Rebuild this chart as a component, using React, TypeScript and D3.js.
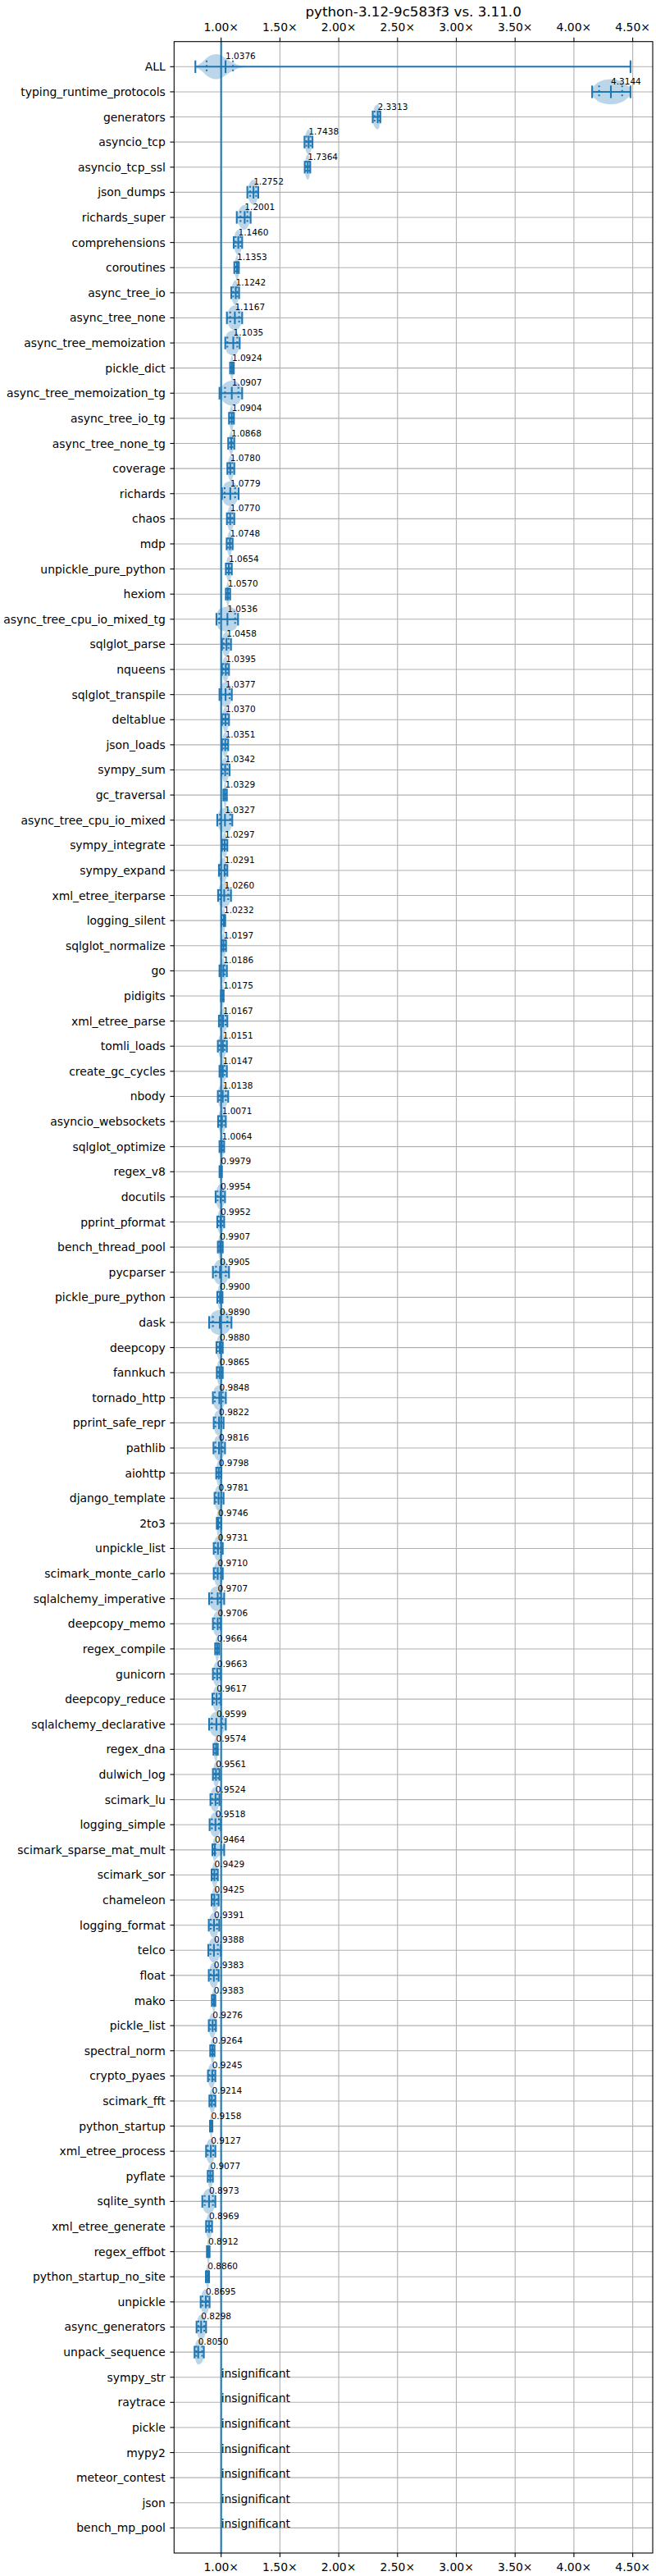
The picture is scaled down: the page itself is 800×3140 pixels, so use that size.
import React from 'react';
import * as d3 from 'd3';

const title = 'python-3.12-9c583f3 vs. 3.11.0';

const names = [
  'ALL', 'typing_runtime_protocols', 'generators', 'asyncio_tcp', 'asyncio_tcp_ssl',
  'json_dumps', 'richards_super', 'comprehensions', 'coroutines', 'async_tree_io',
  'async_tree_none', 'async_tree_memoization', 'pickle_dict', 'async_tree_memoization_tg',
  'async_tree_io_tg', 'async_tree_none_tg', 'coverage', 'richards', 'chaos', 'mdp',
  'unpickle_pure_python', 'hexiom', 'async_tree_cpu_io_mixed_tg', 'sqlglot_parse', 'nqueens',
  'sqlglot_transpile', 'deltablue', 'json_loads', 'sympy_sum', 'gc_traversal',
  'async_tree_cpu_io_mixed', 'sympy_integrate', 'sympy_expand', 'xml_etree_iterparse',
  'logging_silent', 'sqlglot_normalize', 'go', 'pidigits', 'xml_etree_parse', 'tomli_loads',
  'create_gc_cycles', 'nbody', 'asyncio_websockets', 'sqlglot_optimize', 'regex_v8',
  'docutils', 'pprint_pformat', 'bench_thread_pool', 'pycparser', 'pickle_pure_python',
  'dask', 'deepcopy', 'fannkuch', 'tornado_http', 'pprint_safe_repr', 'pathlib', 'aiohttp',
  'django_template', '2to3', 'unpickle_list', 'scimark_monte_carlo', 'sqlalchemy_imperative',
  'deepcopy_memo', 'regex_compile', 'gunicorn', 'deepcopy_reduce', 'sqlalchemy_declarative',
  'regex_dna', 'dulwich_log', 'scimark_lu', 'logging_simple', 'scimark_sparse_mat_mult',
  'scimark_sor', 'chameleon', 'logging_format', 'telco', 'float', 'mako', 'pickle_list',
  'spectral_norm', 'crypto_pyaes', 'scimark_fft', 'python_startup', 'xml_etree_process',
  'pyflate', 'sqlite_synth', 'xml_etree_generate', 'regex_effbot', 'python_startup_no_site',
  'unpickle', 'async_generators', 'unpack_sequence', 'sympy_str', 'raytrace', 'pickle',
  'mypy2', 'meteor_contest', 'json', 'bench_mp_pool',
];

// median ratio (null = insignificant)
const medians = [
  1.0376, 4.3144, 2.3313, 1.7438, 1.7364, 1.2752, 1.2001, 1.146, 1.1353, 1.1242,
  1.1167, 1.1035, 1.0924, 1.0907, 1.0904, 1.0868, 1.078, 1.0779, 1.077, 1.0748,
  1.0654, 1.057, 1.0536, 1.0458, 1.0395, 1.0377, 1.037, 1.0351, 1.0342, 1.0329,
  1.0327, 1.0297, 1.0291, 1.026, 1.0232, 1.0197, 1.0186, 1.0175, 1.0167, 1.0151,
  1.0147, 1.0138, 1.0071, 1.0064, 0.9979, 0.9954, 0.9952, 0.9907, 0.9905, 0.99,
  0.989, 0.988, 0.9865, 0.9848, 0.9822, 0.9816, 0.9798, 0.9781, 0.9746, 0.9731,
  0.971, 0.9707, 0.9706, 0.9664, 0.9663, 0.9617, 0.9599, 0.9574, 0.9561, 0.9524,
  0.9518, 0.9464, 0.9429, 0.9425, 0.9391, 0.9388, 0.9383, 0.9383, 0.9276, 0.9264,
  0.9245, 0.9214, 0.9158, 0.9127, 0.9077, 0.8973, 0.8969, 0.8912, 0.886, 0.8695,
  0.8298, 0.805, null, null, null, null, null, null, null,
];

const lows = [
  0.781, 4.155, 2.289, 1.709, 1.711, 1.223, 1.133, 1.107, 1.112, 1.086,
  1.049, 1.035, 1.076, 0.986, 1.067, 1.06, 1.053, 1.007, 1.049, 1.047,
  1.04, 1.04, 0.96, 1.007, 1.007, 0.986, 1.007, 1.007, 1.002, 1.019,
  0.967, 1.007, 0.981, 0.974, 1.002, 1.002, 0.986, 0.998, 0.981, 0.972,
  0.986, 0.972, 0.974, 0.986, 0.986, 0.953, 0.967, 0.972, 0.93, 0.967,
  0.898, 0.96, 0.963, 0.93, 0.937, 0.935, 0.958, 0.944, 0.963, 0.937,
  0.937, 0.898, 0.93, 0.949, 0.93, 0.926, 0.898, 0.935, 0.93, 0.909,
  0.902, 0.926, 0.919, 0.919, 0.895, 0.891, 0.895, 0.921, 0.895, 0.907,
  0.888, 0.9, 0.905, 0.872, 0.886, 0.84, 0.872, 0.879, 0.87, 0.826,
  0.791, 0.774, 0.996, 0.996, 0.996, 0.996, 0.996, 0.996, 0.996,
];

const highs = [
  4.481, 4.481, 2.354, 1.777, 1.758, 1.316, 1.251, 1.179, 1.151, 1.153,
  1.179, 1.158, 1.108, 1.179, 1.109, 1.112, 1.112, 1.149, 1.112, 1.098,
  1.091, 1.077, 1.144, 1.084, 1.067, 1.091, 1.067, 1.06, 1.072, 1.049,
  1.095, 1.053, 1.053, 1.084, 1.035, 1.042, 1.049, 1.021, 1.053, 1.049,
  1.049, 1.06, 1.04, 1.026, 1.007, 1.033, 1.026, 1.014, 1.067, 1.012,
  1.088, 1.014, 1.014, 1.04, 1.021, 1.033, 1.002, 1.021, 1.002, 1.014,
  1.014, 1.026, 0.998, 0.984, 0.998, 0.998, 1.04, 0.972, 0.986, 0.986,
  0.998, 1.026, 0.972, 0.979, 0.984, 0.998, 0.979, 0.951, 0.956, 0.944,
  0.951, 0.951, 0.926, 0.951, 0.93, 0.951, 0.923, 0.902, 0.898, 0.902,
  0.872, 0.853, 1.004, 1.004, 1.004, 1.004, 1.004, 1.004, 1.004,
];

// dotted quantile markers
const q1s = [
  0.877, 4.214, 2.305, 1.725, 1.722, 1.247, 1.165, 1.123, 1.125, 1.102,
  1.077, 1.053, 1.084, 1.033, 1.078, 1.077, 1.067, 1.03, 1.063, 1.06,
  1.051, 1.05, 0.984, 1.021, 1.019, 1.002, 1.021, 1.019, 1.014, 1.026,
  0.991, 1.016, 0.993, 0.991, 1.012, 1.01, 0.998, 1.01, 0.993, 0.986,
  0.998, 0.986, 0.988, 0.995, 0.993, 0.97, 0.979, 0.982, 0.956, 0.977,
  0.93, 0.972, 0.972, 0.947, 0.951, 0.951, 0.967, 0.956, 0.967, 0.951,
  0.951, 0.921, 0.944, 0.956, 0.944, 0.94, 0.921, 0.947, 0.942, 0.923,
  0.921, 0.935, 0.93, 0.93, 0.912, 0.909, 0.912, 0.93, 0.907, 0.916,
  0.9, 0.909, 0.91, 0.886, 0.895, 0.86, 0.881, 0.884, 0.877, 0.842,
  0.807, 0.788, null, null, null, null, null, null, null,
];

const q3s = [
  1.101, 4.41, 2.345, 1.76, 1.75, 1.298, 1.223, 1.165, 1.145, 1.137,
  1.153, 1.137, 1.1, 1.147, 1.1, 1.095, 1.095, 1.119, 1.095, 1.084,
  1.079, 1.065, 1.119, 1.063, 1.053, 1.072, 1.053, 1.049, 1.053, 1.042,
  1.077, 1.044, 1.037, 1.06, 1.03, 1.032, 1.03, 1.02, 1.037, 1.03,
  1.03, 1.04, 1.026, 1.016, 1.003, 1.016, 1.012, 1.005, 1.04, 1.002,
  1.053, 1.002, 1.002, 1.014, 1.002, 1.012, 0.993, 1.002, 0.986, 0.998,
  0.998, 0.991, 0.986, 0.977, 0.984, 0.984, 1.007, 0.965, 0.974, 0.97,
  0.981, 0.951, 0.96, 0.965, 0.965, 0.972, 0.963, 0.945, 0.944, 0.937,
  0.937, 0.94, 0.921, 0.933, 0.921, 0.93, 0.912, 0.898, 0.893, 0.886,
  0.856, 0.839, null, null, null, null, null, null, null,
];

// the ALL row has a long tail, so its density is given explicitly
const allDensityAt = [0.781, 0.83, 0.9, 0.96, 1.0, 1.05, 1.1, 1.16, 1.25, 1.8, 2.33, 3.0, 4.3, 4.481];
const allDensity = [0.03, 0.3, 0.85, 1.0, 0.9, 0.6, 0.33, 0.1, 0.03, 0.01, 0.01, 0.005, 0.01, 0.005];

const xTicks = [1.0, 1.5, 2.0, 2.5, 3.0, 3.5, 4.0, 4.5];

const W = 800;
const H = 3140;
const plot = { left: 212.3, right: 796, top: 50.7, bottom: 3112 };
const blue = '#1f77b4';
const font = 'DejaVu Sans, sans-serif';

const x = d3.scaleLinear().domain([0.6, 4.67]).range([plot.left, plot.right]);
const y = d3.scaleLinear().domain([0, 100]).range([plot.top, plot.bottom]);
const rowH = y(1) - y(0);

const App = () => {
  const violin = (pts: [number, number][], cy: number) =>
    d3
      .area<[number, number]>()
      .x(p => x(p[0]))
      .y0(p => cy - p[1] * rowH * 0.5)
      .y1(p => cy + p[1] * rowH * 0.5)
      .curve(d3.curveMonotoneX)(pts) || '';

  const rows = names.map((name, i) => {
    const cy = y(i + 1);
    const med = medians[i];
    let pts: [number, number][];
    if (i === 0) {
      pts = allDensityAt.map((v, k) => [v, allDensity[k]] as [number, number]);
    } else if (med == null) {
      pts = [[lows[i], 0.3], [1.0, 1], [highs[i], 0.3]];
    } else {
      pts = [
        [lows[i], 0.3],
        [q1s[i] as number, 0.8],
        [med, 1],
        [q3s[i] as number, 0.8],
        [highs[i], 0.3],
      ];
    }
    return { name, cy, med, i, path: violin(pts, cy) };
  });

  const cap = rowH * 0.25;

  return (
    <svg
      width={W}
      height={H}
      style={{ position: 'absolute', left: 0, top: 0, background: '#fff' }}
      fontFamily={font}
    >
      <rect x={0} y={0} width={W} height={H} fill="#fff" />
      {/* violins */}
      {rows.map(r => (
        <path key={'v' + r.i} d={r.path} fill={blue} fillOpacity={0.3} />
      ))}
      {/* grid */}
      {xTicks.map(t => (
        <line key={'gx' + t} x1={x(t)} x2={x(t)} y1={plot.top} y2={plot.bottom} stroke="#b0b0b0" strokeWidth={1.1} />
      ))}
      {rows.map(r => (
        <line key={'gy' + r.i} x1={plot.left} x2={plot.right} y1={r.cy} y2={r.cy} stroke="#b0b0b0" strokeWidth={1.1} />
      ))}
      {/* stats lines */}
      {rows
        .filter(r => r.med != null)
        .map(r => {
          const lo = x(lows[r.i]);
          const hi = x(highs[r.i]);
          return (
            <g key={'s' + r.i} stroke={blue} strokeWidth={2.1}>
              <line x1={lo} x2={hi} y1={r.cy} y2={r.cy} />
              <line x1={lo} x2={lo} y1={r.cy - cap} y2={r.cy + cap} />
              <line x1={hi} x2={hi} y1={r.cy - cap} y2={r.cy + cap} />
              <line x1={x(r.med as number)} x2={x(r.med as number)} y1={r.cy - cap} y2={r.cy + cap} />
              {[q1s[r.i], q3s[r.i]].map((q, k) => (
                <line
                  key={k}
                  x1={x(q as number)}
                  x2={x(q as number)}
                  y1={r.cy - cap}
                  y2={r.cy + cap}
                  strokeDasharray="2.1,3.4"
                />
              ))}
            </g>
          );
        })}
      {/* reference line at 1.0 */}
      <line x1={x(1)} x2={x(1)} y1={plot.top} y2={plot.bottom} stroke={blue} strokeWidth={2.1} />
      {/* value labels */}
      {rows.map(r =>
        r.med != null ? (
          <text key={'l' + r.i} x={x(r.med)} y={r.cy - 9} fontSize={10.5} fill="#000">
            {r.med.toFixed(4)}
          </text>
        ) : (
          <text key={'l' + r.i} x={x(1)} y={r.cy} fontSize={13.9} fill="#000">
            insignificant
          </text>
        ),
      )}
      {/* frame */}
      <rect
        x={plot.left}
        y={plot.top}
        width={plot.right - plot.left}
        height={plot.bottom - plot.top}
        fill="none"
        stroke="#000"
        strokeWidth={1.1}
      />
      {/* y axis */}
      {rows.map(r => (
        <g key={'yt' + r.i}>
          <line x1={plot.left - 4.9} x2={plot.left} y1={r.cy} y2={r.cy} stroke="#000" strokeWidth={1.1} />
          <text x={plot.left - 10.5} y={r.cy} fontSize={13.9} textAnchor="end" dominantBaseline="central" fill="#000">
            {r.name}
          </text>
        </g>
      ))}
      {/* x axes top and bottom */}
      {xTicks.map(t => (
        <g key={'xt' + t}>
          <line x1={x(t)} x2={x(t)} y1={plot.top - 4.9} y2={plot.top} stroke="#000" strokeWidth={1.1} />
          <line x1={x(t)} x2={x(t)} y1={plot.bottom} y2={plot.bottom + 4.9} stroke="#000" strokeWidth={1.1} />
          <text x={x(t)} y={plot.top - 13} fontSize={13.9} textAnchor="middle" fill="#000">
            {t.toFixed(2) + '×'}
          </text>
          <text x={x(t)} y={plot.bottom + 21.5} fontSize={13.9} textAnchor="middle" fill="#000">
            {t.toFixed(2) + '×'}
          </text>
        </g>
      ))}
      <text x={(plot.left + plot.right) / 2} y={19.5} fontSize={16.7} textAnchor="middle" fill="#000">
        {title}
      </text>
    </svg>
  );
};

export default App;
